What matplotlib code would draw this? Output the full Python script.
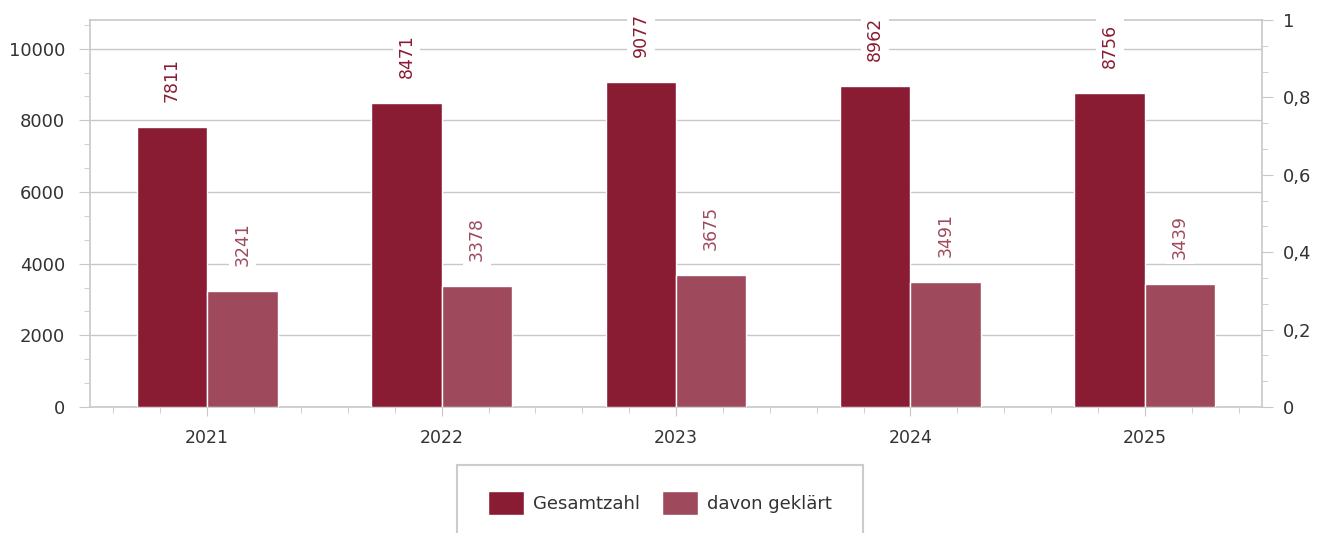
import matplotlib.pyplot as plt
import matplotlib.patches as mpatches
from matplotlib.ticker import MultipleLocator, FixedLocator, FuncFormatter
import numpy as np

years = ["2021", "2022", "2023", "2024", "2025"]
gesamtzahl = [7811, 8471, 9077, 8962, 8756]
davon_geklaert = [3241, 3378, 3675, 3491, 3439]

c_dark = "#891C33"
c_light = "#9E4A5C"
c_grid = "#c8c8c8"
c_text = "#333333"

plt.rcParams['font.family'] = ['DejaVu Sans']

fig = plt.figure(figsize=(13.28, 5.33), dpi=100)
ax = fig.add_axes([0.0678, 0.2364, 0.8825, 0.7261])

x = np.arange(len(years))
bw = 0.3
b1 = ax.bar(x - bw / 2, gesamtzahl, width=bw, color=c_dark, edgecolor="white", linewidth=1, label="Gesamtzahl", zorder=3)
b2 = ax.bar(x + bw / 2, davon_geklaert, width=bw, color=c_light, edgecolor="white", linewidth=1, label="davon geklärt", zorder=3)

for bars, vals, col in [(b1, gesamtzahl, c_dark), (b2, davon_geklaert, c_light)]:
    for rect, v in zip(bars, vals):
        ax.annotate(str(v), (rect.get_x() + rect.get_width() / 2, v), xytext=(0, 18),
                    textcoords="offset points", ha="center", va="bottom", rotation=90,
                    fontsize=12.5, color=col, zorder=5, annotation_clip=False,
                    bbox=dict(facecolor="white", edgecolor="none", pad=3.5))

ax.set_xlim(-0.5, 4.5)
ax.set_ylim(0, 10800)
ax.yaxis.set_major_locator(MultipleLocator(2000))
ax.yaxis.set_minor_locator(MultipleLocator(2000 / 3))
ax.set_xticks(x)
ax.set_xticklabels(years)
ax.xaxis.set_minor_locator(FixedLocator(np.arange(-0.4, 4.5, 0.2)))
ax.grid(axis="y", which="major", color=c_grid, linewidth=1, zorder=0)

for s in ax.spines.values():
    s.set_color(c_grid)
    s.set_linewidth(1.2)

ax.tick_params(axis="y", which="major", length=8, color=c_grid, labelsize=13, labelcolor=c_text, pad=10)
ax.tick_params(axis="y", which="minor", length=4, color=c_grid)
ax.tick_params(axis="x", which="major", length=6.5, color=c_grid, labelsize=12.5, labelcolor=c_text, pad=9)
ax.tick_params(axis="x", which="minor", length=4, color=c_grid)

ax2 = ax.twinx()
ax2.set_ylim(0, 1)
ax2.yaxis.set_major_locator(MultipleLocator(0.2))
ax2.yaxis.set_minor_locator(MultipleLocator(0.2 / 3))
ax2.yaxis.set_major_formatter(FuncFormatter(lambda v, p: ("%g" % round(v, 1)).replace(".", ",")))
for s in ax2.spines.values():
    s.set_visible(False)
ax2.tick_params(axis="y", which="major", length=8, color=c_grid, labelsize=13, labelcolor=c_text, pad=7)
ax2.tick_params(axis="y", which="minor", length=4, color=c_grid)

# legend box (runs past the bottom edge like the original)
fig.patches.append(mpatches.Rectangle((457 / 1328, -0.05), (863 - 457) / 1328, (533 - 465) / 533 + 0.05,
                                      transform=fig.transFigure, facecolor="white",
                                      edgecolor="#cccccc", linewidth=1.5))
fig.legend(handles=[b1, b2], loc="center", bbox_to_anchor=(660 / 1328, 1 - 503 / 533), ncol=2,
           frameon=False, fontsize=13, handlelength=2.0, handleheight=1.6, handletextpad=0.5,
           columnspacing=1.2, labelcolor=c_text)

fig.savefig("out.png", dpi=100)
